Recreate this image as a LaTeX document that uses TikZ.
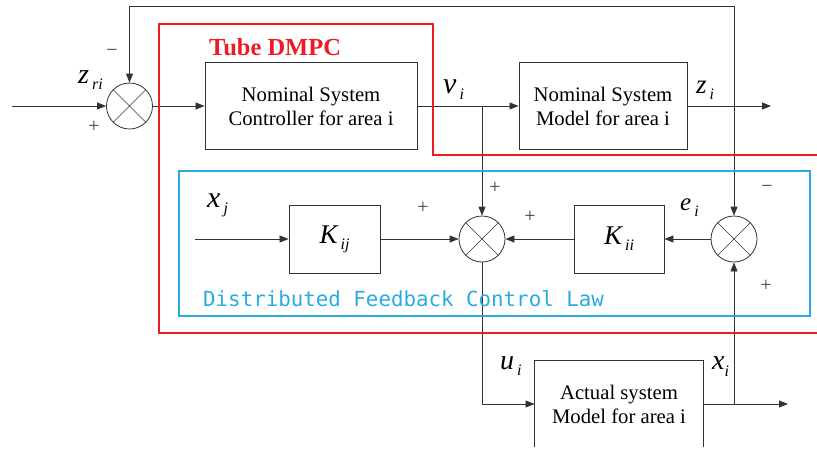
\documentclass[tikz,border=0pt]{standalone}
\usepackage{fontspec}
\setmainfont{Liberation Serif}
\setmonofont{DejaVu Sans Mono}
\usetikzlibrary{arrows.meta}
\definecolor{tubered}{RGB}{237,28,36}
\definecolor{lawblue}{RGB}{41,171,226}
\newcommand{\lsub}[3]{{\fontsize{#1}{#1}\selectfont\itshape #2}\hspace{3pt}\raisebox{-6pt}{\fontsize{16}{16}\selectfont\itshape #3}}
\begin{document}
\begin{tikzpicture}[x=1pt,y=-1pt,
  conn/.style={draw=black!80, line width=0.8pt},
  arr/.style={conn,-{Triangle[length=9pt,width=7pt]}},
  block/.style={draw=black!80, line width=0.9pt, inner sep=0pt, align=center,
    font=\fontsize{20.7}{24}\selectfont},
  sumnode/.style={circle, draw=black!80, line width=0.8pt, minimum size=46pt, inner sep=0pt,
    path picture={\draw[black!80,line width=0.6pt]
      (path picture bounding box.north west) -- (path picture bounding box.south east)
      (path picture bounding box.north east) -- (path picture bounding box.south west);}},
  sign/.style={font=\fontsize{20}{20}\selectfont, inner sep=0pt, text=black!75},
  lbl/.style={inner sep=0pt, anchor=base west},
]
\useasboundingbox (0,0) rectangle (817,448);

% blocks
\node[block, minimum width=212pt, minimum height=87pt] (box1) at (311,106)
  {Nominal System\\Controller for area i};
\node[block, minimum width=168pt, minimum height=87pt] (box2) at (603,106)
  {Nominal System\\Model for area i};
\node[block, minimum width=91pt, minimum height=68pt] (kij) at (334.5,239)
  {\lsub{27}{K}{ij}};
\node[block, minimum width=90pt, minimum height=68pt] (kii) at (619,239)
  {\lsub{27}{K}{ii}};
\node[block, draw=none, minimum width=168pt, minimum height=86pt] (act) at (619,404)
  {Actual system\\Model for area i};
\draw[black!80, line width=0.9pt] (act.south west) -- (act.north west) -- (act.north east) -- (act.south east);

% summing junctions
\node[sumnode] (sum1) at (129.5,106) {};
\node[sumnode] (sum2) at (482,239) {};
\node[sumnode] (sum3) at (734,239) {};

% coordinates
\coordinate (in1) at (12,106);
\coordinate (vb) at (sum2 |- box1);
\coordinate (out1) at (771,106);
\coordinate (zb) at (sum3 |- box2);
\coordinate (top) at (734,6);
\coordinate (xjin) at (195,239);
\coordinate (out2) at (788,404);
\coordinate (xb) at (sum3 |- act);

% connectors
\draw[arr] (in1) -- (sum1.west);
\draw[arr] (sum1.east) -- (box1.west);
\draw[arr] (box1.east) -- (box2.west);
\draw[arr] (vb) -- (sum2.north);
\draw[arr] (box2.east) -- (out1);
\draw[arr] (zb) -- (top) -| (sum1.north);
\draw[arr] (zb) -- (sum3.north);
\draw[arr] (xjin) -- (kij.west);
\draw[arr] (kij.east) -- (sum2.west);
\draw[arr] (sum3.west) -- (kii.east);
\draw[arr] (kii.west) -- (sum2.east);
\draw[arr] (sum2.south) |- (act.west);
\draw[arr] (act.east) -- (out2);
\draw[arr] (xb) -- (sum3.south);

% frames
\draw[tubered, line width=1.6pt] (817,155) -- (433,155) -- (433,24) -- (159,24) -- (159,333) -- (817,333);
\draw[lawblue, line width=1.6pt] (179,171) rectangle (810,316);

\node[anchor=base west, inner sep=0pt, text=tubered, font=\fontsize{24.5}{24.5}\selectfont\bfseries] (tube) at (209,55) {Tube DMPC};
\node[anchor=base west, inner sep=0pt, text=lawblue, font=\fontsize{20.8}{20.8}\selectfont\ttfamily] (law) at (203,306) {Distributed Feedback Control Law};

% signal labels
\node[lbl] (lzri) at (78,83) {\lsub{28}{z}{ri}};
\node[lbl] (lvi) at (443,93) {\lsub{30}{v}{i}};
\node[lbl] (lzi) at (696,93) {\lsub{27}{z}{i}};
\node[lbl] (lxj) at (207,207) {\lsub{30}{x}{j}};
\node[lbl] (lei) at (680,210) {\lsub{25}{e}{i}};
\node[lbl] (lui) at (500,369) {\lsub{28}{u}{i}};
\node[lbl] (lxi) at (712,369) {{\fontsize{28}{28}\selectfont\itshape x}\raisebox{-7pt}{\fontsize{16}{16}\selectfont\itshape i}};

% signs
\node[sign] (s1) at (112,53) {−};
\node[sign] (s2) at (94,127) {+};
\node[sign] (s3) at (423,208) {+};
\node[sign] (s4) at (495,188) {+};
\node[sign] (s5) at (530,217) {+};
\node[sign] (s6) at (767,189) {−};
\node[sign] (s7) at (766,286) {+};
\end{tikzpicture}
\end{document}
